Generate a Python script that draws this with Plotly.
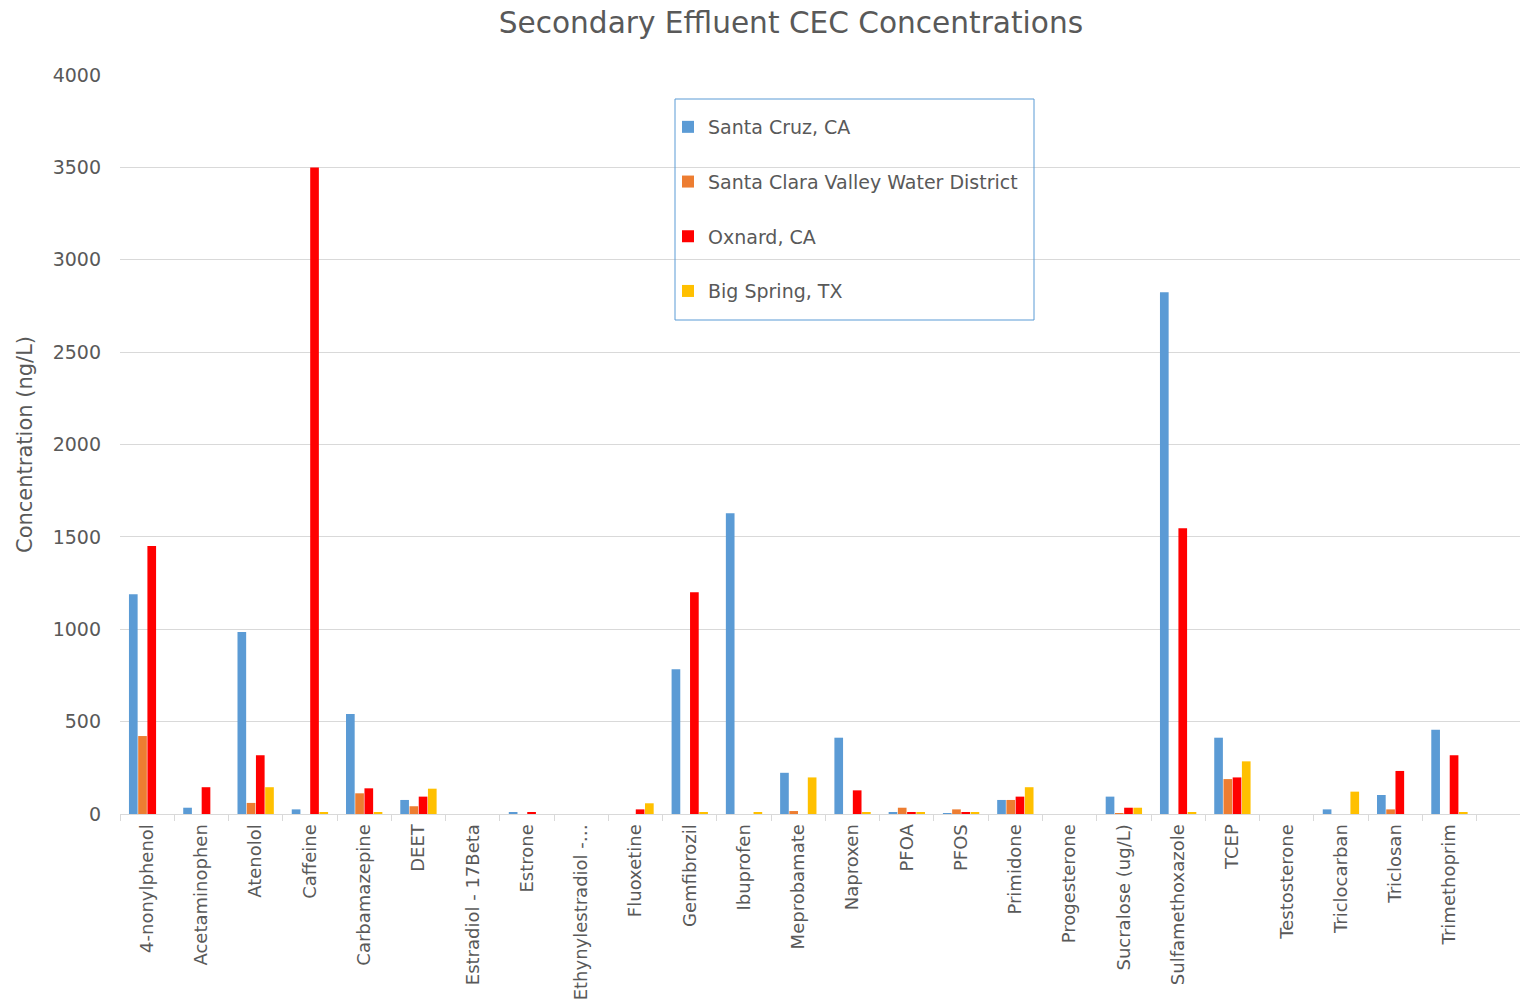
import plotly.graph_objects as go

categories = ["4-nonylphenol", "Acetaminophen", "Atenolol", "Caffeine", "Carbamazepine", "DEET",
              "Estradiol - 17Beta", "Estrone", "Ethynylestradiol -\u2026", "Fluoxetine", "Gemfibrozil",
              "Ibuprofen", "Meprobamate", "Naproxen", "PFOA", "PFOS", "Primidone", "Progesterone",
              "Sucralose (ug/L)", "Sulfamethoxazole", "TCEP", "Testosterone", "Triclocarban",
              "Triclosan", "Trimethoprim"]

santa_cruz = [1190, 34, 985, 25, 541, 76, 0, 7, 0, 0, 784, 1628, 223, 413, 7, 5, 76, 0, 94, 2824, 413, 0, 25, 103, 456]
santa_clara = [422, 0, 60, 0, 112, 42, 0, 0, 0, 0, 0, 0, 16, 0, 34, 25, 76, 0, 5, 0, 189, 0, 0, 25, 0]
oxnard = [1450, 145, 318, 3500, 139, 94, 0, 7, 0, 25, 1200, 0, 0, 128, 8, 10, 94, 0, 34, 1547, 198, 0, 0, 233, 318]
big_spring = [0, 0, 145, 7, 7, 137, 0, 0, 0, 58, 7, 7, 198, 7, 7, 7, 145, 0, 34, 7, 285, 0, 121, 0, 7]

series = [
    ("Santa Cruz, CA", santa_cruz, "#5b9bd5"),
    ("Santa Clara Valley Water District", santa_clara, "#ed7d31"),
    ("Oxnard, CA", oxnard, "#ff0000"),
    ("Big Spring, TX", big_spring, "#ffc000"),
]

FONT = "DejaVu Sans"
GREY = "#595959"
L, T, B, PW, PH = 120, 75, 191, 1400, 739

fig = go.Figure()
for i, (name, vals, color) in enumerate(series):
    fig.add_trace(go.Bar(x=categories, y=vals, name=name, marker_color=color,
                         marker_line_width=0, legendgroup=f"g{i}"))

# legend frame
fig.add_shape(type="rect", xref="paper", yref="paper",
              x0=(675 - L) / PW, x1=(1034 - L) / PW,
              y0=(T + PH - 99) / PH, y1=(T + PH - 320) / PH,
              line=dict(color="#5b9bd5", width=1), fillcolor="rgba(0,0,0,0)", layer="above")

fig.update_layout(
    width=1521, height=1005,
    paper_bgcolor="white", plot_bgcolor="white",
    margin=dict(l=L, r=1, t=T, b=B),
    barmode="group", bargap=0.32, bargroupgap=0.06,
    font=dict(family=FONT, color=GREY),
    title=dict(text="Secondary Effluent CEC Concentrations", x=0.52, xanchor="center",
               y=0.977, yanchor="middle", font=dict(size=29.6, color=GREY, family=FONT)),
    legend=dict(x=(668 - L) / PW, y=(T + PH - 108) / PH, xanchor="left", yanchor="top",
                borderwidth=0, bgcolor="rgba(0,0,0,0)",
                font=dict(size=19, color=GREY, family=FONT),
                tracegroupgap=27, itemwidth=30),
    xaxis=dict(type="category", range=[-0.5, 25.3], tickson="boundaries", ticks="outside",
               ticklen=6, tickcolor="#d9d9d9", showgrid=False, showline=True,
               linecolor="#d9d9d9", linewidth=1, tickangle=-90, automargin=False,
               ticklabelstandoff=2,
               tickfont=dict(size=18, color=GREY, family=FONT)),
    yaxis=dict(range=[0, 4000], dtick=500, showgrid=True, gridcolor="#d9d9d9", gridwidth=1,
               zeroline=False, ticks="", automargin=False, ticklabelstandoff=18,
               tickfont=dict(size=19, color=GREY, family=FONT),
               title=dict(text="Concentration (ng/L)", standoff=14,
                          font=dict(size=21, color=GREY, family=FONT))),
)

fig.write_html("out.html", config={"displayModeBar": False},
               post_script="document.body.style.margin='0';document.body.style.overflow='hidden';")
